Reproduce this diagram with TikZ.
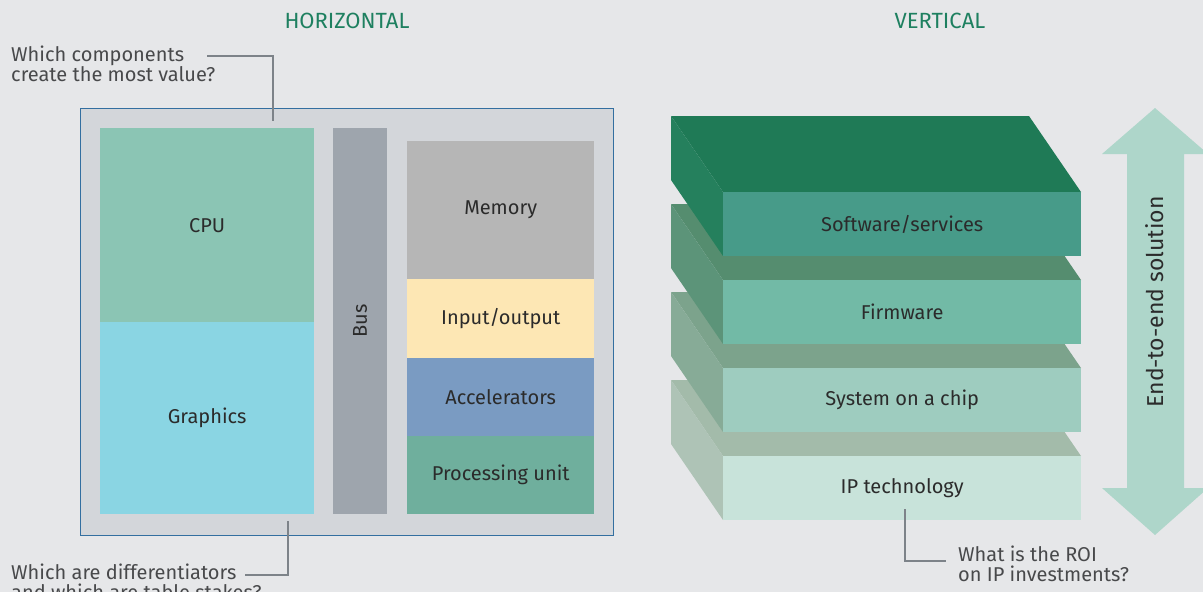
\documentclass[tikz,border=0pt]{standalone}
\usepackage{fontspec}
\setmainfont{Fira Sans}
\definecolor{bgC}{HTML}{E6E7E9}
\definecolor{frameC}{HTML}{D3D6DA}
\definecolor{frameLineC}{HTML}{336FA0}
\definecolor{cpuC}{HTML}{8BC5B4}
\definecolor{gfxC}{HTML}{8AD5E3}
\definecolor{busC}{HTML}{9EA5AD}
\definecolor{memC}{HTML}{B6B6B6}
\definecolor{ioC}{HTML}{FDE7B4}
\definecolor{accC}{HTML}{7A9BC2}
\definecolor{procC}{HTML}{6FAF9D}
\definecolor{textC}{HTML}{2B2B2B}
\definecolor{noteC}{HTML}{48494B}
\definecolor{leaderC}{HTML}{7D8389}
\definecolor{headC}{HTML}{1E8060}
\definecolor{arrowC}{HTML}{AED6CA}
\definecolor{swTop}{HTML}{1F7A56}
\definecolor{swSide}{HTML}{25805D}
\definecolor{swFront}{HTML}{479B89}
\definecolor{fwTop}{HTML}{558D6F}
\definecolor{fwSide}{HTML}{5C9479}
\definecolor{fwFront}{HTML}{72BAA6}
\definecolor{socTop}{HTML}{7CA38C}
\definecolor{socSide}{HTML}{87AB97}
\definecolor{socFront}{HTML}{9ECCBF}
\definecolor{ipTop}{HTML}{A3BBAA}
\definecolor{ipSide}{HTML}{AEC3B6}
\definecolor{ipFront}{HTML}{C8E3DA}
\begin{document}
\begin{tikzpicture}[x=1pt, y=-1pt,
    boxStyle/.style={rectangle, inner sep=0pt, anchor=north west, text=textC, font=\fontsize{20}{22}\selectfont},
    noteStyle/.style={inner sep=0pt, anchor=north west, align=left, text=noteC, font=\fontsize{20}{20}\selectfont},
    leaderStyle/.style={draw=leaderC, line width=1.3pt},
    headStyle/.style={text=headC, font=\fontsize{22}{24}\selectfont}]
    \fill[bgC] (0,0) rectangle (1203,592);
    \clip (0,0) rectangle (1203,592);

    \node[headStyle](horiz) at (347,21) {HORIZONTAL};
    \node[headStyle](vert) at (940,21) {VERTICAL};

    \node[boxStyle, fill=frameC, draw=frameLineC, line width=1.3pt, minimum width=533pt, minimum height=427pt](frame) at (80,108) {};
    \node[boxStyle, fill=cpuC, minimum width=214pt, minimum height=194pt](cpu) at (100,128) {CPU};
    \node[boxStyle, fill=gfxC, minimum width=214pt, minimum height=192pt](gfx) at (100,322) {Graphics};
    \node[boxStyle, fill=busC, minimum width=54pt, minimum height=386pt](bus) at (333,128) {};
    \node[boxStyle, anchor=center, rotate=90](busText) at (bus.center) {Bus};
    \node[boxStyle, fill=memC, minimum width=187pt, minimum height=138pt](mem) at (407,141) {Memory};
    \node[boxStyle, fill=ioC, minimum width=187pt, minimum height=79pt](io) at (407,279) {Input/output};
    \node[boxStyle, fill=accC, minimum width=187pt, minimum height=78pt](acc) at (407,358) {Accelerators};
    \node[boxStyle, fill=procC, minimum width=187pt, minimum height=78pt](proc) at (407,436) {Processing unit};

    \node[noteStyle](valueNote) at (11,46) {Which components\\create the most value?};
    \coordinate (valueFrom) at (207,56);
    \coordinate (valueTo) at (273,121);
    \draw[leaderStyle] (valueFrom) -| (valueTo);
    \node[noteStyle](diffNote) at (11,564) {Which are differentiators\\and which are table stakes?};
    \coordinate (diffFrom) at (288,521);
    \coordinate (diffTo) at (245,575);
    \draw[leaderStyle] (diffFrom) |- (diffTo);

    \foreach \f/\topC/\sideC/\frontC/\lbl/\nm in {456/ipTop/ipSide/ipFront/IP technology/ip, 368/socTop/socSide/socFront/System on a chip/soc, 280/fwTop/fwSide/fwFront/Firmware/fw, 192/swTop/swSide/swFront/{Software/services}/sw}{
        \fill[\topC] (671,\f-76) -- (1029,\f-76) -- (1081,\f) -- (723,\f) -- cycle;
        \fill[\sideC] (671,\f-76) -- (723,\f) -- (723,\f+64) -- (671,\f-12) -- cycle;
        \node[boxStyle, fill=\frontC, minimum width=358pt, minimum height=64pt](\nm) at (723,\f) {\lbl};
    }

    \fill[arrowC] (1155,108) -- (1208,154) -- (1184,154) -- (1184,488) -- (1208,488) -- (1155,535) -- (1102,488) -- (1127,488) -- (1127,154) -- (1102,154) -- cycle;
    \node[boxStyle, anchor=center, rotate=90, font=\fontsize{23}{24}\selectfont](e2e) at (1155,302) {End-to-end solution};

    \node[noteStyle](roiNote) at (958,546) {What is the ROI\\on IP investments?};
    \coordinate (roiFrom) at (905,509);
    \coordinate (roiTo) at (946,561);
    \draw[leaderStyle] (roiFrom) |- (roiTo);
\end{tikzpicture}
\end{document}
